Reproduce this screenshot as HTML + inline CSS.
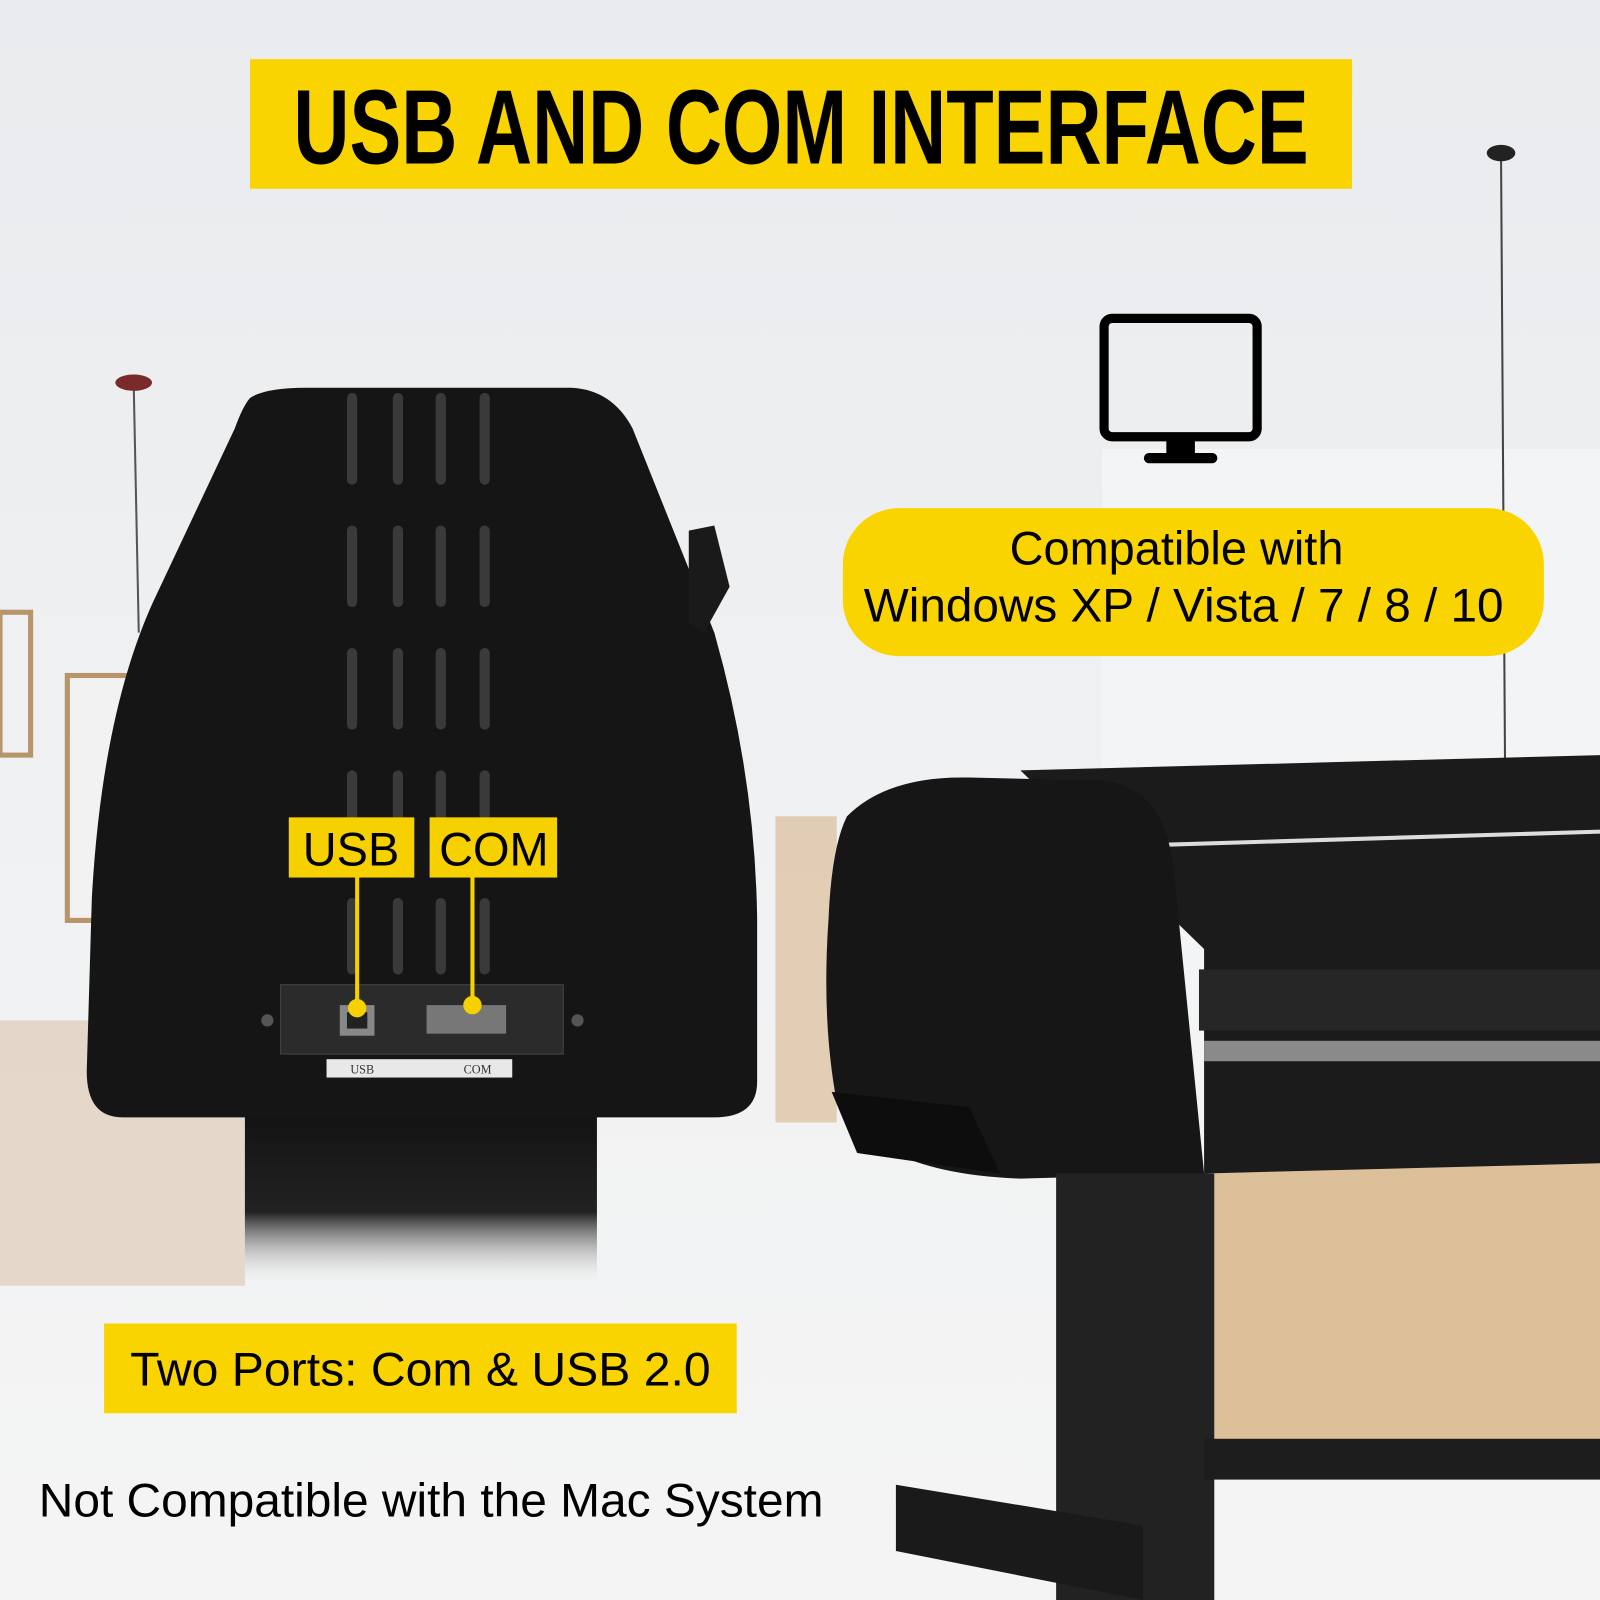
<!DOCTYPE html>
<html><head><meta charset="utf-8"><style>
html,body{margin:0;padding:0;width:1600px;height:1600px;overflow:hidden;background:#eceef0}
svg{display:block}
</style></head><body>
<svg width="1600" height="1600" viewBox="0 0 1568 1568" xmlns="http://www.w3.org/2000/svg">
<defs>
<linearGradient id="bg" x1="0" y1="0" x2="0" y2="1">
<stop offset="0" stop-color="#e9ebee"/><stop offset="0.6" stop-color="#f1f2f3"/><stop offset="1" stop-color="#f4f4f4"/>
</linearGradient>
<linearGradient id="fade" x1="0" y1="0" x2="0" y2="1">
<stop offset="0" stop-color="#111"/><stop offset="0.6" stop-color="#222"/><stop offset="1" stop-color="#eee" stop-opacity="0"/>
</linearGradient>
</defs>
<rect width="1568" height="1568" fill="url(#bg)"/>
<rect x="1080" y="440" width="488" height="720" fill="#f3f4f5"/>
<rect x="1190" y="1120" width="378" height="300" fill="#dcc09a"/>
<rect x="0" y="600" width="30" height="140" fill="none" stroke="#b8946a" stroke-width="5"/>
<rect x="66" y="662" width="60" height="240" fill="#f2f2f2" stroke="#b8946a" stroke-width="5"/>
<rect x="0" y="1000" width="240" height="260" fill="#c9a57a" opacity="0.35"/>
<line x1="131" y1="375" x2="136" y2="620" stroke="#555" stroke-width="2"/>
<ellipse cx="131" cy="375" rx="18" ry="8" fill="#7a2a2a"/>
<line x1="1471" y1="150" x2="1475" y2="760" stroke="#444" stroke-width="2"/>
<ellipse cx="1471" cy="150" rx="14" ry="8" fill="#222"/>
<rect x="760" y="800" width="60" height="300" fill="#d2aa78" opacity="0.5"/>
<rect x="240" y="1080" width="345" height="180" fill="url(#fade)"/>
<path d="M245 390 Q260 380 300 380 L560 380 Q600 382 620 420 L700 620 Q740 760 742 900 L742 1060 Q742 1095 700 1095 L120 1095 Q85 1095 85 1050 L90 880 Q100 700 150 590 L230 420 Q238 398 245 390 Z" fill="#151515"/>
<path d="M675 520 L700 515 L715 575 L690 620 L675 610 Z" fill="#1a1a1a"/>
<g stroke="#3a3a3a" stroke-width="10" stroke-linecap="round" fill="none">
<line x1="345" y1="390" x2="345" y2="470"/><line x1="390" y1="390" x2="390" y2="470"/><line x1="432" y1="390" x2="432" y2="470"/><line x1="475" y1="390" x2="475" y2="470"/>
<line x1="345" y1="520" x2="345" y2="590"/><line x1="390" y1="520" x2="390" y2="590"/><line x1="432" y1="520" x2="432" y2="590"/><line x1="475" y1="520" x2="475" y2="590"/>
<line x1="345" y1="640" x2="345" y2="710"/><line x1="390" y1="640" x2="390" y2="710"/><line x1="432" y1="640" x2="432" y2="710"/><line x1="475" y1="640" x2="475" y2="710"/>
<line x1="345" y1="760" x2="345" y2="800"/><line x1="390" y1="760" x2="390" y2="800"/><line x1="432" y1="760" x2="432" y2="800"/><line x1="475" y1="760" x2="475" y2="800"/>
<line x1="345" y1="885" x2="345" y2="950"/><line x1="390" y1="885" x2="390" y2="950"/><line x1="432" y1="885" x2="432" y2="950"/><line x1="475" y1="885" x2="475" y2="950"/>
</g>
<rect x="275" y="965" width="277" height="68" fill="#2b2b2b" stroke="#444"/>
<rect x="333" y="985" width="34" height="30" fill="#888"/>
<rect x="340" y="992" width="20" height="16" fill="#222"/>
<rect x="418" y="985" width="78" height="28" fill="#777"/>
<circle cx="262" cy="1000" r="6" fill="#555"/><circle cx="566" cy="1000" r="6" fill="#555"/>
<rect x="320" y="1038" width="182" height="18" fill="#e8e8e8"/>
<text x="355" y="1052" font-family="Liberation Serif,serif" font-size="12" fill="#333" text-anchor="middle">USB</text>
<text x="468" y="1052" font-family="Liberation Serif,serif" font-size="12" fill="#333" text-anchor="middle">COM</text>
<line x1="350" y1="858" x2="350" y2="988" stroke="#f7d000" stroke-width="4"/>
<line x1="463" y1="858" x2="463" y2="985" stroke="#f7d000" stroke-width="4"/>
<circle cx="350" cy="988" r="9" fill="#f7d000"/><circle cx="463" cy="985" r="9" fill="#f7d000"/>
<rect x="283" y="801" width="123" height="59" fill="#f7d000"/>
<rect x="421" y="801" width="125" height="59" fill="#f7d000"/>
<text x="344" y="848" font-family="Liberation Sans,sans-serif" font-size="46" text-anchor="middle" fill="#000">USB</text>
<text x="484" y="848" font-family="Liberation Sans,sans-serif" font-size="46" text-anchor="middle" fill="#000">COM</text>
<path d="M1000 755 L1568 740 L1568 1140 L1180 1150 L1180 930 Z" fill="#1b1b1b"/>
<line x1="1135" y1="828" x2="1568" y2="815" stroke="#ddd" stroke-width="4"/>
<rect x="1175" y="950" width="393" height="60" fill="#262626"/>
<rect x="1180" y="1020" width="388" height="20" fill="#8a8a8a"/>
<path d="M830 800 Q870 760 950 762 L1080 765 Q1140 770 1150 850 L1180 1150 L1000 1155 Q860 1150 820 1080 Q805 1000 812 900 Q815 830 830 800 Z" fill="#161616"/>
<rect x="1035" y="1150" width="155" height="418" fill="#222"/>
<path d="M878 1455 L1120 1495 L1120 1568 L878 1520 Z" fill="#1a1a1a"/>
<rect x="1180" y="1410" width="388" height="40" fill="#1d1d1d"/>
<path d="M815 1070 L950 1085 L980 1150 L840 1130 Z" fill="#0d0d0d"/>
<rect x="245" y="58" width="1080" height="127" fill="#fad400"/>
<text x="785" y="160" font-family="Liberation Sans Narrow,Liberation Sans,sans-serif" font-weight="bold" font-size="104" text-anchor="middle" fill="#000" textLength="995" lengthAdjust="spacingAndGlyphs">USB AND COM INTERFACE</text>
<rect x="1082" y="312" width="150" height="116" rx="8" fill="none" stroke="#000" stroke-width="9"/>
<rect x="1143" y="428" width="28" height="18" fill="#000"/>
<rect x="1121" y="444" width="72" height="10" rx="5" fill="#000"/>
<rect x="826" y="498" width="687" height="145" rx="55" fill="#fad400"/>
<text x="1153" y="553" font-family="Liberation Sans,sans-serif" font-size="46" text-anchor="middle" fill="#000">Compatible with</text>
<text x="1160" y="609" font-family="Liberation Sans,sans-serif" font-size="46" text-anchor="middle" fill="#000" textLength="627" lengthAdjust="spacingAndGlyphs">Windows XP / Vista / 7 / 8 / 10</text>
<rect x="102" y="1297" width="620" height="88" fill="#fad400"/>
<text x="412" y="1358" font-family="Liberation Sans,sans-serif" font-size="46" text-anchor="middle" fill="#000" textLength="569" lengthAdjust="spacingAndGlyphs">Two Ports: Com &amp; USB 2.0</text>
<text x="38" y="1486" font-family="Liberation Sans,sans-serif" font-size="46" fill="#000" textLength="769" lengthAdjust="spacingAndGlyphs">Not Compatible with the Mac System</text>
</svg>
</body></html>
